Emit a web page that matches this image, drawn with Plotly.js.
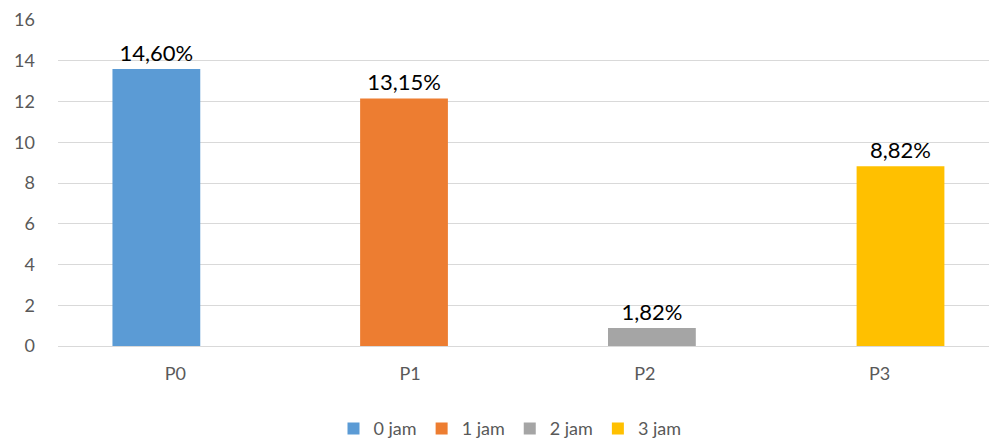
<!DOCTYPE html>
<html><head><meta charset="utf-8">
<script src="https://cdn.plot.ly/plotly-3.0.1.min.js"></script>
<style>html,body{margin:0;padding:0;background:#fff}</style>
</head><body>
<div id="chart" style="width:989px;height:441px"></div>
<script>
const categories = ["P0", "P1", "P2", "P3"];
const seriesNames = ["0 jam", "1 jam", "2 jam", "3 jam"];
const barHeights = [13.6, 12.15, 0.88, 8.82];
const labelValues = [14.60, 13.15, 1.82, 8.82];
const colors = ["#5b9bd5", "#ed7d31", "#a5a5a5", "#ffc000"];
const offsets = [-0.268, -0.213, -0.157, -0.098];

const FONT = "Lato, 'Open Sans', sans-serif";
const traces = categories.map((c, i) => ({
  type: "bar",
  name: seriesNames[i],
  x: [c],
  y: [barHeights[i]],
  text: [labelValues[i].toFixed(2).replace(".", ",") + "%"],
  textposition: "outside",
  cliponaxis: false,
  textfont: {size: 22, color: "#000000", family: FONT},
  marker: {color: colors[i]},
  width: 0.374,
  offset: offsets[i],
  hoverinfo: "none"
}));

const layout = {
  width: 989, height: 441,
  margin: {l: 58, r: 0, t: 20, b: 95, autoexpand: false},
  paper_bgcolor: "#fff", plot_bgcolor: "#fff",
  barmode: "overlay",
  font: {family: FONT, size: 18, color: "#595959"},
  xaxis: {
    type: "category", range: [-0.5, 3.466],
    showgrid: false, showline: false, zeroline: false,
    ticks: "", ticklabelstandoff: 15, automargin: false,
    tickfont: {size: 18, color: "#595959"}
  },
  yaxis: {
    range: [0, 16], dtick: 2, tick0: 0,
    showgrid: true, gridcolor: "#d9d9d9", gridwidth: 1,
    zeroline: true, zerolinecolor: "#d9d9d9", zerolinewidth: 1,
    showline: false, ticks: "", ticklabelstandoff: 22, automargin: false,
    tickfont: {size: 18, color: "#595959"}
  },
  showlegend: true,
  legend: {
    orientation: "h", x: 0.4855, xanchor: "center", xref: "paper",
    y: -0.197, yanchor: "top",
    font: {size: 18, color: "#595959"},
    itemwidth: 30, traceorder: "normal"
  }
};

Plotly.newPlot("chart", traces, layout, {displayModeBar: false, staticPlot: true});
</script>
</body></html>
